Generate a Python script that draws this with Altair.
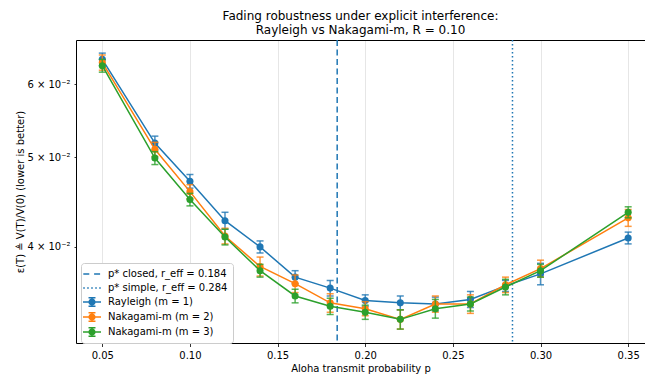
import altair as alt
import pandas as pd

# ---- data ----
p_vals = [0.05, 0.08, 0.10, 0.12, 0.14, 0.16, 0.18, 0.20, 0.22, 0.24, 0.26, 0.28, 0.30, 0.35]

rayleigh = [0.0638, 0.0518, 0.0471, 0.0427, 0.0400, 0.0371, 0.0361, 0.0350, 0.0348, 0.0347, 0.0351, 0.0363, 0.0374, 0.0409]
rayleigh_err = [0.0010, 0.0009, 0.0008, 0.0009, 0.0006, 0.0006, 0.0007, 0.0005, 0.0006, 0.0006, 0.0007, 0.0005, 0.0010, 0.0006]

nak2 = [0.0633, 0.0510, 0.0459, 0.0411, 0.0381, 0.0365, 0.0348, 0.0343, 0.0334, 0.0347, 0.0347, 0.0364, 0.0379, 0.0430]
nak2_err = [0.0012, 0.0009, 0.0008, 0.0008, 0.0009, 0.0008, 0.0008, 0.0006, 0.0008, 0.0007, 0.0008, 0.0007, 0.0008, 0.0009]

nak3 = [0.0628, 0.0499, 0.0450, 0.0410, 0.0377, 0.0354, 0.0345, 0.0340, 0.0334, 0.0343, 0.0347, 0.0362, 0.0377, 0.0436]
nak3_err = [0.0010, 0.0008, 0.0007, 0.0008, 0.0006, 0.0006, 0.0007, 0.0006, 0.0008, 0.0008, 0.0006, 0.0007, 0.0006, 0.0006]

series_names = ["Rayleigh (m = 1)", "Nakagami-m (m = 2)", "Nakagami-m (m = 3)"]
series_colors = ["#1f77b4", "#ff7f0e", "#2ca02c"]

pstar_vals = [0.184, 0.284]
pstar_labels = ["p* closed, r_eff = 0.184", "p* simple, r_eff = 0.284"]

x_ticks = [0.05, 0.10, 0.15, 0.20, 0.25, 0.30, 0.35]
y_ticks = [0.04, 0.05, 0.06]

title_lines = ["Fading robustness under explicit interference:", "Rayleigh vs Nakagami-m, R = 0.10"]
x_title = "Aloha transmit probability p"
y_title = "ε(T) ≜ V(T)/V(0) (lower is better)"

# ---- tables ----
rows = []
for name, vals, errs in zip(series_names, [rayleigh, nak2, nak3], [rayleigh_err, nak2_err, nak3_err]):
    for p, v, e in zip(p_vals, vals, errs):
        rows.append({"p": p, "v": v, "lo": v - e, "hi": v + e, "series": name})
df = pd.DataFrame(rows)
rules_df = pd.DataFrame({"p": pstar_vals, "label": pstar_labels})

FONT = "DejaVu Sans"

xscale = alt.Scale(domain=[0.035, 0.3596], nice=False, zero=False)
yscale = alt.Scale(type="log", domain=[0.03149, 0.06695], nice=False)

x_axis_bottom = alt.Axis(values=x_ticks, format=".2f", title=x_title, grid=True,
                         gridColor="#e6e6e6", gridWidth=1, tickSize=3.5, labelPadding=4,
                         titleY=20, titleBaseline="top", domain=True)
x_axis_top = alt.Axis(orient="top", values=x_ticks, labels=False, ticks=False, grid=False,
                      title=None, domain=True)
y_axis = alt.Axis(values=y_ticks, title=y_title, grid=False, tickSize=2,
                  labelPadding=4, titleX=-56, titleBaseline="middle",
                  labelExpr="datum.value < 0.045 ? '4 × 10⁻²' : (datum.value < 0.055 ? '5 × 10⁻²' : '6 × 10⁻²')")

def X(axis):
    return alt.X("p:Q", scale=xscale, axis=axis)

layers = []

rules = alt.Chart(rules_df).mark_rule(strokeWidth=1.5, color="#1f77b4").encode(
    x=X(x_axis_top),
    strokeDash=alt.StrokeDash("label:N", scale=alt.Scale(domain=pstar_labels, range=[[6, 3.5], [1.6, 2.4]]), legend=None),
)
layers.append(rules)

for i, (name, col) in enumerate(zip(series_names, series_colors)):
    base = alt.Chart(df).transform_filter(alt.datum.series == name)
    err = base.mark_errorbar(ticks=True, size=7, thickness=1.5, color=col, opacity=0.8).encode(
        x=X(None),
        y=alt.Y("lo:Q", scale=yscale, axis=y_axis),
        y2="hi:Q",
    )
    line = base.mark_line(strokeWidth=1.5, color=col).encode(
        x=X(x_axis_bottom if i == 0 else None), y=alt.Y("v:Q", scale=yscale, axis=y_axis)
    )
    pts = base.mark_point(filled=True, size=50, opacity=1, color=col).encode(
        x=X(None), y=alt.Y("v:Q", scale=yscale, axis=y_axis)
    )
    layers += [err, line, pts]

# ---- legend (fill-only custom symbols) ----
def rect(x0, y0, x1, y1):
    return f"M{x0},{y0}H{x1}V{y1}H{x0}Z"

circle = "M-0.6,0A0.6,0.6 0 1,1 0.6,0A0.6,0.6 0 1,1 -0.6,0Z"
errbar_path = " ".join([
    rect(-1.5, -0.125, 1.5, 0.125),
    rect(-0.125, -0.85, 0.125, 0.85),
    rect(-0.58, -0.85, 0.58, -0.6),
    rect(-0.58, 0.6, 0.58, 0.85),
    circle,
])
dash_path = rect(-1.45, -0.13, -0.45, 0.13) + " " + rect(0.35, -0.13, 1.35, 0.13)
dot_path = " ".join(rect(c - 0.13, -0.13, c + 0.13, 0.13) for c in [-1.33, -0.67, 0.0, 0.67, 1.33])

legend_labels = pstar_labels + series_names
legend_colors = ["#1f77b4", "#1f77b4"] + series_colors
legend_shapes = [dash_path, dot_path, errbar_path, errbar_path, errbar_path]

leg = alt.Legend(title=None, orient="none", legendX=5, legendY=223, symbolSize=144,
                 symbolStrokeWidth=0, labelFont=FONT, labelFontSize=10, labelColor="black",
                 padding=5, fillColor="white", strokeColor="#cccccc", cornerRadius=3,
                 rowPadding=3, labelOffset=10, symbolOpacity=1)

legend_df = pd.DataFrame({"label": legend_labels})
legend_layer = alt.Chart(legend_df).transform_filter("false").mark_point(filled=True, opacity=1).encode(
    fill=alt.Fill("label:N", scale=alt.Scale(domain=legend_labels, range=legend_colors), legend=leg),
    shape=alt.Shape("label:N", scale=alt.Scale(domain=legend_labels, range=legend_shapes), legend=leg),
)
layers.append(legend_layer)

chart = alt.layer(*layers).resolve_axis(x="independent").properties(
    width=569,
    height=303,
    title=alt.TitleParams(text=title_lines, font=FONT, fontSize=12, fontWeight="normal",
                          color="black", anchor="middle", lineHeight=14, offset=2),
    padding={"left": 68, "top": 32, "right": 0, "bottom": 33},
    autosize=alt.AutoSizeParams(type="none"),
).configure_view(
    stroke=None
).configure_axis(
    labelFont=FONT, labelFontSize=10, labelColor="black",
    titleFont=FONT, titleFontSize=10, titleColor="black", titleFontWeight="normal",
    tickColor="black", tickWidth=0.8, domainColor="black", domainWidth=1,
)

chart.save("out.html", embed_options={"renderer": "svg", "actions": False})
